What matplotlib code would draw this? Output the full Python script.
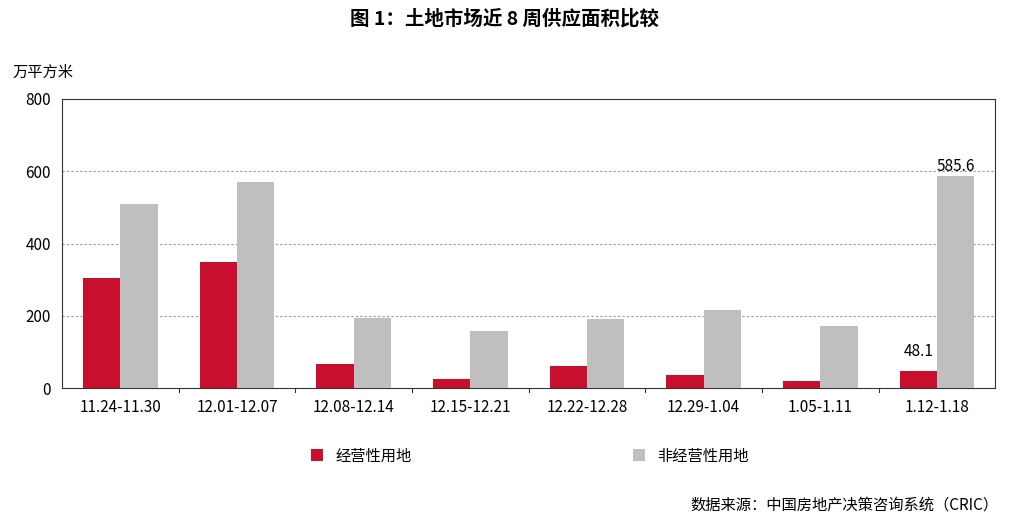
import matplotlib
matplotlib.use("Agg")
import matplotlib.pyplot as plt
import numpy as np

plt.rcParams['font.family'] = ['Noto Sans CJK SC', 'DejaVu Sans']

categories = ["11.24-11.30", "12.01-12.07", "12.08-12.14", "12.15-12.21",
              "12.22-12.28", "12.29-1.04", "1.05-1.11", "1.12-1.18"]
commercial = [305, 348, 67, 25, 60, 35, 20, 48.1]
noncommercial = [510, 570, 193, 157, 190, 215, 172, 585.6]

fig = plt.figure(figsize=(10.09, 5.21), dpi=100)
ax = fig.add_axes([0.0614, 0.255, 0.925, 0.555])
x = np.arange(len(categories))
w = 0.32
ax.bar(x - 0.16, commercial, w, color="#C8102E", label="经营性用地", zorder=3)
ax.bar(x + 0.16, noncommercial, w, color="#BFBFBF", label="非经营性用地", zorder=3)
ax.set_xlim(-0.5, len(categories) - 0.5)
ax.set_ylim(0, 800)
ax.set_yticks([0, 200, 400, 600, 800])
ax.set_xticks(x)
ax.set_xticklabels(categories, fontsize=11)
ax.tick_params(axis='y', labelsize=11, length=0, pad=8)
ax.tick_params(axis='x', length=0, pad=8)
for yv in [200, 400, 600]:
    ax.axhline(yv, color="#999999", ls=(0, (2, 2)), lw=0.8, zorder=1)
for s in ax.spines.values():
    s.set_color("#333333"); s.set_linewidth(0.8)
for i in range(1, len(categories)):
    ax.plot([i - 0.5, i - 0.5], [0, -12], color="#333333", lw=0.8, clip_on=False)

ax.text(x[-1] - 0.16, commercial[-1] + 30, f"{commercial[-1]}", ha="center", va="bottom", fontsize=11)
ax.text(x[-1] + 0.16, noncommercial[-1] + 5, f"{noncommercial[-1]}", ha="center", va="bottom", fontsize=11)

fig.text(0.5, 0.965, "图 1：土地市场近 8 周供应面积比较", ha="center", va="center", fontsize=14, fontweight="bold")
fig.text(0.012, 0.862, "万平方米", ha="left", va="center", fontsize=11)
fig.legend(loc="center", bbox_to_anchor=(0.525, 0.125), ncol=2, frameon=False, fontsize=11,
           handlelength=0.8, handleheight=0.8, columnspacing=14.5)
fig.text(0.99, 0.03, "数据来源：中国房地产决策咨询系统（CRIC）", ha="right", va="center", fontsize=11)
fig.savefig("out.png", dpi=100)
